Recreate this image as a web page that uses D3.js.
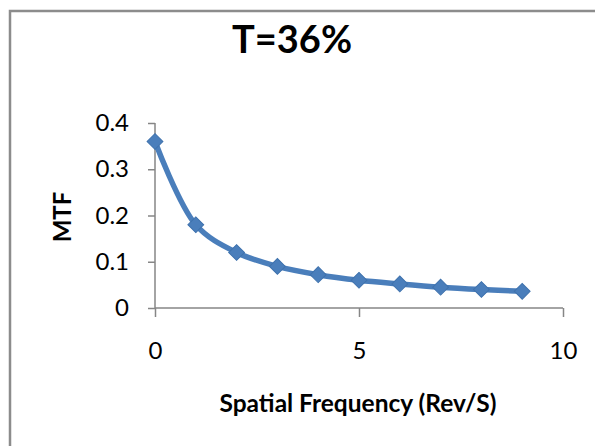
<!DOCTYPE html>
<html>
<head>
<meta charset="utf-8">
<script src="https://cdn.jsdelivr.net/npm/d3@7"></script>
<style>
  body { margin: 0; background: #fff; }
  text { font-family: Lato, "Open Sans", sans-serif; fill: #000; }
</style>
</head>
<body>
<div id="chart"></div>
<script>
const freq = [0, 1, 2, 3, 4, 5, 6, 7, 8, 9];
const mtf = [0.36, 0.18, 0.12, 0.09, 0.072, 0.06, 0.052, 0.045, 0.04, 0.036];
const xTicks = [0, 5, 10];
const yTicks = [0, 0.1, 0.2, 0.3, 0.4];
const title = "T=36%";
const xLabel = "Spatial Frequency (Rev/S)";
const yLabel = "MTF";

const W = 595, H = 446;
const plot = {left: 155, right: 563, top: 123, bottom: 308};
const blue = "#4a7ebb";
const axisGrey = "#868686";

const svg = d3.select("#chart").append("svg")
    .attr("width", W)
    .attr("height", H);

// chart border, runs off the right and bottom edge
svg.append("rect")
    .attr("x", 10).attr("y", 11)
    .attr("width", W).attr("height", H)
    .attr("fill", "none")
    .attr("stroke", "#8c8c8c")
    .attr("stroke-width", 2.5);

const x = d3.scaleLinear().domain([0, 10]).range([plot.left, plot.right]);
const y = d3.scaleLinear().domain([0, 0.4]).range([plot.bottom, plot.top]);

const xAxis = svg.append("g")
    .attr("transform", "translate(0," + plot.bottom + ")")
    .call(d3.axisBottom(x).tickValues(xTicks).tickSize(9).tickPadding(25).tickFormat(d3.format("d")));

const yAxis = svg.append("g")
    .attr("transform", "translate(" + plot.left + ",0)")
    .call(d3.axisLeft(y).tickValues(yTicks).tickSize(7).tickPadding(19)
        .tickFormat(d => d === 0 ? "0" : d3.format(".1f")(d)));

[xAxis, yAxis].forEach(g => {
    g.select(".domain").attr("stroke", axisGrey).attr("stroke-width", 1.5);
    g.selectAll(".tick line").attr("stroke", axisGrey).attr("stroke-width", 1.5);
    g.selectAll(".tick text")
        .style("font-family", "Lato, sans-serif")
        .style("font-size", "24px")
        .attr("fill", "#000");
});
xAxis.select(".domain").attr("d", "M" + plot.left + ",0H" + plot.right);
yAxis.select(".domain").attr("d", "M0," + plot.bottom + "V" + plot.top);

const points = freq.map((f, i) => ({f: f, v: mtf[i]}));

const line = d3.line()
    .x(d => x(d.f))
    .y(d => y(d.v))
    .curve(d3.curveCatmullRom.alpha(0.5));

svg.append("path")
    .datum(points)
    .attr("d", line)
    .attr("fill", "none")
    .attr("stroke", blue)
    .attr("stroke-width", 5.5)
    .attr("stroke-linejoin", "round");

const diamond = d3.symbol().type(d3.symbolSquare).size(125);
svg.selectAll(".marker")
    .data(points)
    .enter().append("path")
    .attr("class", "marker")
    .attr("d", diamond)
    .attr("transform", d => "translate(" + x(d.f) + "," + y(d.v) + ") rotate(45)")
    .attr("fill", blue)
    .attr("stroke", "#3f72ad")
    .attr("stroke-width", 1);

svg.append("text")
    .attr("x", 292).attr("y", 53)
    .attr("text-anchor", "middle")
    .style("font-size", "38px")
    .style("font-weight", "bold")
    .text(title);

svg.append("text")
    .attr("x", 358).attr("y", 412)
    .attr("text-anchor", "middle")
    .style("font-size", "24.5px")
    .style("font-weight", "bold")
    .text(xLabel);

svg.append("text")
    .attr("transform", "translate(71,217) rotate(-90)")
    .attr("text-anchor", "middle")
    .style("font-size", "24px")
    .style("font-weight", "bold")
    .text(yLabel);
</script>
</body>
</html>
